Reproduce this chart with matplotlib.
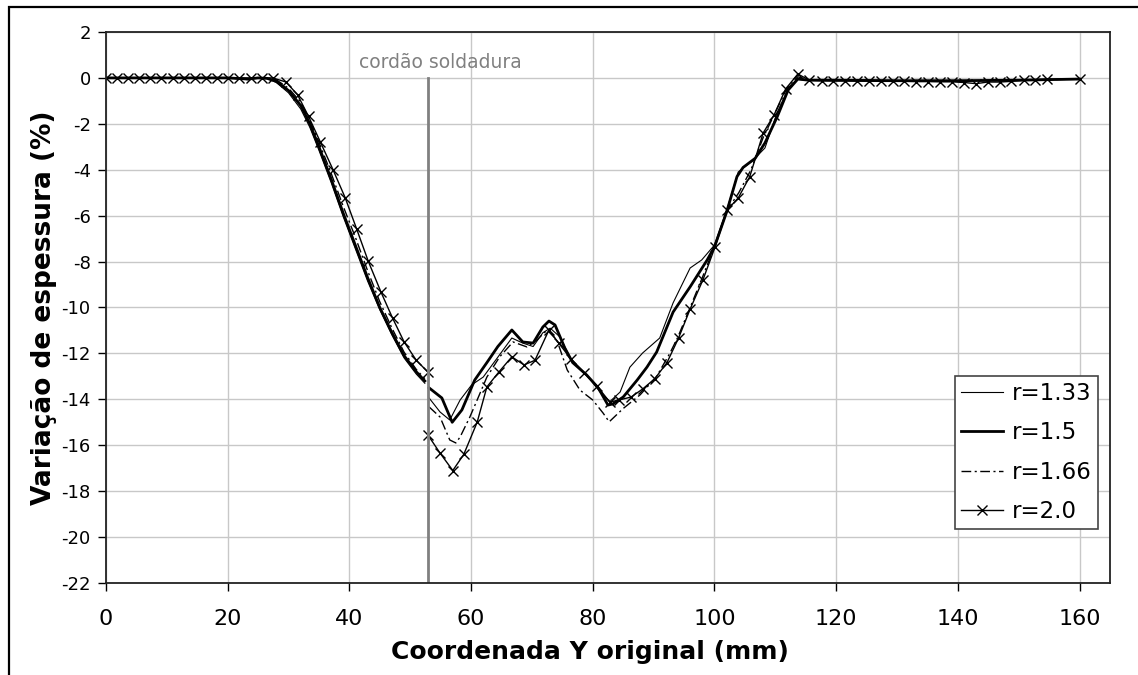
import numpy as np
import matplotlib.pyplot as plt
from matplotlib.patches import Rectangle

plt.rcParams['axes.unicode_minus'] = False

# dados (coordenada Y original em mm, variacao de espessura em %)
x_133 = [0, 5, 10, 15, 20, 23.4, 25, 26.5, 28, 30, 32, 33.5, 35, 37, 39, 41, 43, 45, 47, 49, 51, 52.4,
         np.nan,
         53.1, 54.9, 56.5, 58.2, 60.1, 62.0, 64.3, 66.7, 68.5, 70.2, 71.8, 73.0, 74.6, 76.3, 79.0, 81.2,
         82.8, 84.5, 86.1, 88.2, 91.0, 93.2, 96.0, 97.9, 100.0, 102.2, 103.9, 106.3, 108.3, 110.3, 111.9,
         113.5, 115, 120, 130, 140, 150, 160]
y_133 = [0, 0, 0, 0, 0, -0.08, 0, -0.03, -0.2, -0.65, -1.35, -2.15, -3.15, -4.55, -6.05, -7.45, -8.85, -10.1,
         -11.2, -12.2, -12.9, -13.3,
         np.nan,
         -13.94, -14.55, -14.9, -14.03, -13.37, -13.03, -12.2, -11.33, -11.55, -11.7, -11.1, -10.9, -11.28,
         -12.2, -12.94, -13.68, -14.1, -13.68, -12.6, -11.98, -11.33, -9.8, -8.28, -7.93, -7.28, -5.6, -4.1,
         -3.6, -3.05, -1.5, -0.6, -0.05, -0.1, -0.1, -0.12, -0.12, -0.1, -0.05]

x_15 = [0, 5, 10, 15, 20, 23.4, 25, 26.5, 28, 30, 32, 33.5, 35, 37, 39, 41, 43, 45, 47, 49, 51, 52.4,
        np.nan,
        53.1, 55.2, 56.9, 58.5, 60.6, 62.6, 64.4, 66.7, 68.5, 70.2, 71.8, 72.8, 73.8, 75.4, 76.7, 79.0,
        80.9, 82.5, 83.3, 85.0, 87.3, 88.9, 90.5, 93.2, 96.0, 98.8, 100.0, 102.0, 103.7, 104.7, 106.7,
        108.3, 110.3, 112.1, 113.7, 115.5, 120, 130, 140, 150, 160]
y_15 = [0, 0, 0, 0, 0, -0.05, 0, -0.02, -0.15, -0.55, -1.2, -2.0, -3.0, -4.4, -5.9, -7.3, -8.7, -10.0,
        -11.1, -12.1, -12.8, -13.2,
        np.nan,
        -13.5, -13.94, -15.0, -14.46, -13.16, -12.4, -11.7, -10.98, -11.5, -11.55, -10.85, -10.59, -10.76,
        -11.76, -12.4, -12.94, -13.5, -14.25, -14.2, -13.9, -13.16, -12.6, -11.94, -10.2, -9.1, -7.93,
        -7.36, -5.84, -4.3, -3.9, -3.5, -2.83, -1.7, -0.53, -0.05, -0.1, -0.1, -0.12, -0.12, -0.1, -0.05]

x_166 = [0, 5, 10, 15, 20, 23.4, 25, 26.5, 28, 30, 32, 33.5, 35, 37, 39, 41, 43, 45, 47, 49, 51, 52.4,
         np.nan,
         53.1, 54.9, 56.5, 57.5, 58.2, 59.8, 61.0, 62.6, 64.7, 66.9, 69.2, 70.8, 72.5, 74.1, 75.8, 77.9,
         80.0, 81.7, 82.7, 85.0, 87.8, 90.5, 92.7, 94.0, 96.0, 98.0, 100.0, 102.0, 104.0, 106.0, 108.0,
         110.0, 112.0, 113.7, 115.5, 120, 130, 140, 150, 160]
y_166 = [0, 0, 0, 0, 0, -0.05, 0, 0, -0.08, -0.45, -1.05, -1.85, -2.8, -4.15, -5.6, -6.95, -8.4, -9.75,
         -10.9, -11.95, -12.7, -13.1,
         np.nan,
         -14.33, -14.77, -15.77, -15.9, -15.64, -14.77, -14.03, -13.03, -12.15, -11.5, -11.72, -11.42,
         -10.98, -11.42, -12.72, -13.6, -14.03, -14.6, -14.98, -14.4, -13.8, -13.0, -11.98, -11.28, -10.0,
         -8.7, -7.35, -5.8, -5.0, -4.0, -2.6, -1.5, -0.4, 0.05, -0.1, -0.1, -0.12, -0.13, -0.1, -0.05]

x_20 = [0, 1.8, 3.7, 5.5, 7.3, 9.1, 11.0, 12.8, 14.6, 16.4, 18.3, 20.1, 21.9, 23.8, 25.6, 27.4,
        29.6, 31.5, 33.3, 35.2, 37.3, 39.3, 41.2, 43.1, 45.2, 47.1, 49.0, 51.0, 52.9,
        np.nan,
        52.9, 54.9, 57.0, 58.8, 61.0, 62.6, 64.6, 66.7, 68.7, 70.5, 72.8, 74.4, 76.4, 78.6, 80.7, 82.8,
        84.3, 86.3, 88.2, 90.2, 92.2, 94.1, 96.0, 98.1, 100.1, 102.1, 103.9, 105.8, 108.0, 109.8, 111.7,
        113.7, 115.6, 117.6, 119.5, 121.5, 123.4, 125.4, 127.3, 129.3, 131.2, 133.2, 135.1, 137.1, 139.0,
        141.0, 143.0, 144.9, 146.9, 148.8, 150.8, 152.7, 154.7, 160.0]
y_20 = [0, 0, 0, 0, 0, 0, 0, 0, 0, 0, 0, 0, 0, 0, 0, 0,
        -0.18, -0.74, -1.68, -2.77, -3.99, -5.21, -6.58, -7.98, -9.33, -10.46, -11.5, -12.3, -12.81,
        np.nan,
        -15.55, -16.34, -17.1, -16.4, -15.0, -13.46, -12.8, -12.15, -12.5, -12.3, -10.98, -11.55, -12.24,
        -12.85, -13.42, -14.12, -14.03, -13.9, -13.55, -13.1, -12.4, -11.33, -10.07, -8.8, -7.36, -5.75,
        -5.23, -4.3, -2.4, -1.61, -0.48, 0.17, -0.1, -0.12, -0.13, -0.13, -0.14, -0.14, -0.15, -0.15,
        -0.15, -0.16, -0.16, -0.17, -0.17, -0.2, -0.25, -0.18, -0.18, -0.15, -0.1, -0.08, -0.05, -0.05]

x_cordao = 53

fig = plt.figure(figsize=(11.38, 6.75), dpi=100)
ax = fig.add_axes([0.0931, 0.1363, 0.8823, 0.8163])

# moldura exterior (so se ve o lado esquerdo e o de cima)
fig.add_artist(Rectangle((0.0075, -0.1), 1.1, 0.9896 + 0.1, transform=fig.transFigure,
                         fill=False, edgecolor='black', lw=1.6, clip_on=False))

ax.plot(x_133, y_133, color='black', lw=0.8, label='r=1.33')
ax.plot(x_15, y_15, color='black', lw=2.0, label='r=1.5')
ax.plot(x_166, y_166, color='black', lw=1.0, ls=(0, (7, 2.5, 1.5, 2.5)), label='r=1.66')
ax.plot(x_20, y_20, color='black', lw=1.0, marker='x', ms=7, mew=1.0, label='r=2.0')

ax.plot([x_cordao, x_cordao], [0, -22], color='#808080', lw=2)
ax.text(41.6, 0.69, 'cordão soldadura', color='#808080', fontsize=13.5, va='center', ha='left')

ax.set_xlim(0, 165)
ax.set_ylim(-22, 2)
ax.set_xticks(range(0, 161, 20))
ax.set_yticks(range(-22, 3, 2))
ax.grid(True, color='#c8c8c8', lw=1)
ax.set_axisbelow(True)
ax.tick_params(axis='x', direction='out', length=6, width=1, labelsize=16, pad=13)
ax.tick_params(axis='y', direction='out', length=6, width=1, labelsize=13, pad=5)
for s in ax.spines.values():
    s.set_color('#222222')
    s.set_linewidth(1.3)

ax.set_xlabel('Coordenada Y original (mm)', fontsize=18, fontweight='bold')
ax.xaxis.set_label_coords(0.482, -0.103)
ax.set_ylabel('Variação de espessura (%)', fontsize=19, fontweight='bold', labelpad=3)

leg = ax.legend(loc='lower right', bbox_to_anchor=(0.988, 0.098), borderaxespad=0,
                fontsize=16.5, handlelength=1.85, handletextpad=0.4, labelspacing=0.72,
                borderpad=0.25, fancybox=False, framealpha=1, edgecolor='#444444')
leg.get_frame().set_linewidth(1.2)

fig.savefig('out.png', dpi=100)
